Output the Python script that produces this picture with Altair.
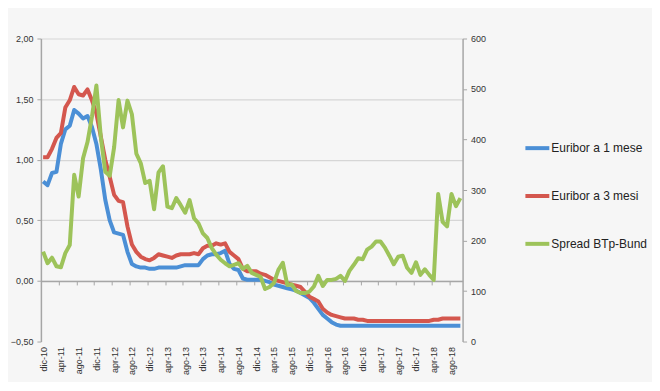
import altair as alt
import pandas as pd

# monthly observations, dic-10 ... ott-18 (95 months)
month_index = list(range(95))

euribor_1m = [
    0.82, 0.79, 0.89, 0.90, 1.13, 1.25, 1.28, 1.41, 1.38, 1.34,
    1.36, 1.27, 1.13, 0.92, 0.67, 0.50, 0.40, 0.39, 0.38, 0.24,
    0.14, 0.12, 0.11, 0.11, 0.10, 0.10, 0.11, 0.11, 0.11, 0.11,
    0.11, 0.12, 0.13, 0.13, 0.13, 0.13, 0.18, 0.21, 0.22, 0.22,
    0.23, 0.25, 0.14, 0.10, 0.09, 0.02, 0.01, 0.01, 0.01, 0.01,
    0.00, -0.01, -0.03, -0.04, -0.05, -0.06, -0.07, -0.08, -0.10, -0.12,
    -0.14, -0.18, -0.23, -0.28, -0.31, -0.34, -0.36, -0.37, -0.37, -0.37,
    -0.37, -0.37, -0.37, -0.37, -0.37, -0.37, -0.37, -0.37, -0.37, -0.37,
    -0.37, -0.37, -0.37, -0.37, -0.37, -0.37, -0.37, -0.37, -0.37, -0.37,
    -0.37, -0.37, -0.37, -0.37, -0.37,
]

euribor_3m = [
    1.02, 1.02, 1.09, 1.18, 1.22, 1.43, 1.49, 1.60, 1.54, 1.53,
    1.58, 1.49, 1.38, 1.19, 1.00, 0.86, 0.71, 0.66, 0.65, 0.45,
    0.30, 0.24, 0.20, 0.18, 0.17, 0.19, 0.22, 0.21, 0.20, 0.19,
    0.21, 0.22, 0.22, 0.22, 0.23, 0.22, 0.27, 0.29, 0.29, 0.31,
    0.30, 0.31, 0.24, 0.21, 0.18, 0.10, 0.08, 0.08, 0.08, 0.06,
    0.05, 0.03, 0.01, 0.00, -0.01, -0.02, -0.03, -0.04, -0.05, -0.09,
    -0.13, -0.15, -0.17, -0.23, -0.26, -0.28, -0.29, -0.30, -0.31, -0.31,
    -0.31, -0.32, -0.32, -0.33, -0.33, -0.33, -0.33, -0.33, -0.33, -0.33,
    -0.33, -0.33, -0.33, -0.33, -0.33, -0.33, -0.33, -0.33, -0.32, -0.32,
    -0.31, -0.31, -0.31, -0.31, -0.31,
]

spread_btp_bund = [
    178, 155, 166, 149, 147, 175, 191, 330, 287, 363,
    395, 445, 507, 405, 336, 328, 385, 478, 424, 477,
    450, 372, 353, 314, 318, 262, 335, 347, 267, 264,
    284, 270, 255, 280, 244, 234, 214, 205, 185, 172,
    162, 155, 149, 152, 155, 144, 150, 136, 132, 128,
    104, 108, 116, 142, 156, 112, 113, 100, 96, 96,
    99, 109, 130, 110, 122, 122, 124, 130, 120, 140,
    152, 165, 163, 182, 188, 198, 198, 186, 170, 153,
    168, 170, 146, 136, 157, 132, 143, 132, 122, 292,
    237, 228, 292, 268, 284,
]

tick_labels = ["dic-10", "apr-11", "ago-11", "dic-11", "apr-12", "ago-12",
               "dic-12", "apr-13", "ago-13", "dic-13", "apr-14", "ago-14",
               "dic-14", "apr-15", "ago-15", "dic-15", "apr-16", "ago-16",
               "dic-16", "apr-17", "ago-17", "dic-17", "apr-18", "ago-18"]
tick_positions = [0, 4, 8, 12, 16, 20, 24, 28, 32, 36, 40, 44, 48, 52, 56,
                  60, 64, 68, 72, 76, 80, 84, 88, 92]
tick_marks = [3.5, 7.5, 11.5, 15.5, 19.5, 23.5, 27.5, 31.5, 35.5, 39.5, 43.5,
              47.5, 51.5, 55.5, 59.5, 63.5, 67.5, 71.5, 75.5, 79.5, 83.5,
              87.5, 91.5]

left_ticks = [-0.5, 0.0, 0.5, 1.0, 1.5, 2.0]
right_ticks = [0, 100, 200, 300, 400, 500, 600]

series_names = ["Euribor a 1 mese", "Euribor a 3 mesi", "Spread BTp-Bund"]
series_colors = ["#4b8fd6", "#d4574e", "#9dc35a"]

df = pd.DataFrame({
    "idx": month_index,
    "Euribor a 1 mese": euribor_1m,
    "Euribor a 3 mesi": euribor_3m,
    "Spread BTp-Bund": spread_btp_bund,
})

FONT = "Liberation Sans"
AXIS_GREY = "#a6a6a6"
label_arr = "[" + ",".join("'%s'" % t for t in tick_labels) + "]"

color = alt.Color(
    "serie:N",
    scale=alt.Scale(domain=series_names, range=series_colors),
    legend=alt.Legend(
        orient="none", legendX=484, legendY=96, title=None,
        symbolType="stroke", symbolStrokeWidth=4, symbolSize=576,
        labelFontSize=12, labelFont=FONT, labelColor="#222222",
        rowPadding=26, labelOffset=0, padding=0, labelLimit=200,
    ),
)

x_dom = alt.Scale(domain=[-0.5, 94.5], nice=False, zero=False)

rates = alt.Chart(df).transform_fold(
    ["Euribor a 1 mese", "Euribor a 3 mesi"], as_=["serie", "valore"]
).mark_line(strokeWidth=4, strokeJoin="round").encode(
    x=alt.X("idx:Q", scale=x_dom, axis=alt.Axis(
        orient="bottom", values=tick_positions,
        labelExpr=label_arr + "[round(datum.value/4)]",
        labelAngle=-90, labelAlign="right", labelBaseline="middle",
        labelPadding=5, labelFontSize=9, labelFont=FONT, labelColor="#333333",
        domain=False, ticks=False, grid=False, title=None)),
    y=alt.Y("valore:Q", scale=alt.Scale(domain=[-0.5, 2.0], nice=False, zero=False),
            axis=alt.Axis(
                orient="left", values=left_ticks,
                labelExpr="replace(format(datum.value, '.2f'), '.', ',')",
                labelFontSize=9, labelFont=FONT, labelColor="#333333", labelPadding=4,
                grid=True, gridColor="#d6d6d6", gridWidth=1.2,
                gridOpacity={"condition": {"test": "datum.value == -0.5", "value": 0}, "value": 1},
                domainColor=AXIS_GREY, domainWidth=1.5, tickColor=AXIS_GREY, tickSize=4,
                title=None)),
    color=color,
    detail="serie:N",
)

spread = alt.Chart(df).transform_fold(
    ["Spread BTp-Bund"], as_=["serie", "valore"]
).mark_line(strokeWidth=4, strokeJoin="round").encode(
    x=alt.X("idx:Q", scale=x_dom, axis=alt.Axis(
        orient="bottom", offset=-60.8, values=tick_marks, labels=False,
        domain=True, domainColor=AXIS_GREY, domainWidth=1.5,
        ticks=True, tickColor=AXIS_GREY, tickSize=4, grid=False, title=None)),
    y=alt.Y("valore:Q", scale=alt.Scale(domain=[0, 600], nice=False),
            axis=alt.Axis(
                orient="right", values=right_ticks,
                labelFontSize=9, labelFont=FONT, labelColor="#333333", labelPadding=4,
                grid=False, domainColor=AXIS_GREY, domainWidth=1.5,
                tickColor=AXIS_GREY, tickSize=4, title=None)),
    color=color,
)

chart = alt.layer(rates, spread).resolve_scale(
    y="independent", x="independent"
).properties(
    width=423, height=304,
    padding={"left": 33, "top": 30, "right": 190, "bottom": 40},
    autosize="none",
    background="#f6f6f6",
).configure_view(stroke=None)

chart.save("out.html", embed_options={"renderer": "svg", "actions": False})
